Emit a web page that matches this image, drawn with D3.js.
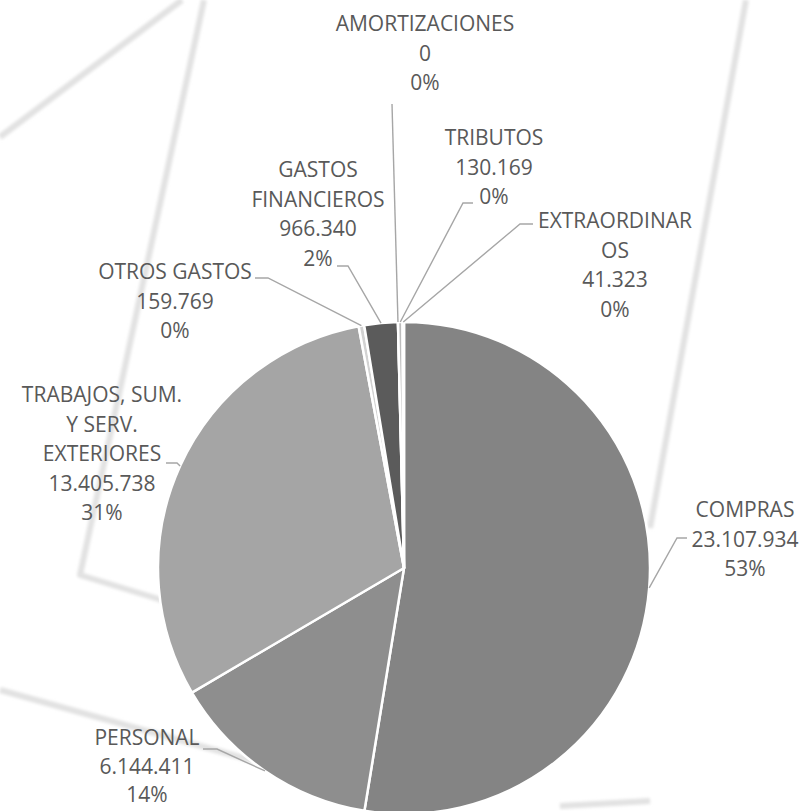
<!DOCTYPE html>
<html>
<head>
<meta charset="utf-8">
<script src="https://cdn.jsdelivr.net/npm/d3@7"></script>
<style>
  body { margin: 0; background: #fff; }
  svg { display: block; }
  text { font-family: "Open Sans", sans-serif; font-size: 21px; fill: #595959; }
</style>
</head>
<body>
<svg class="displayContext" width="805" height="811"></svg>
<script>

// data (clockwise from 12 o'clock)
var categories = ["COMPRAS", "PERSONAL", "TRABAJOS, SUM. Y SERV. EXTERIORES", "OTROS GASTOS",
                  "GASTOS FINANCIEROS", "AMORTIZACIONES", "TRIBUTOS", "EXTRAORDINARIOS"];
var values     = [23107934, 6144411, 13405738, 159769, 966340, 0, 130169, 41323];
var percents   = ["53%", "14%", "31%", "0%", "2%", "0%", "0%", "0%"];
var nameLines  = [["COMPRAS"], ["PERSONAL"], ["TRABAJOS, SUM.", "Y SERV.", "EXTERIORES"], ["OTROS GASTOS"],
                  ["GASTOS", "FINANCIEROS"], ["AMORTIZACIONES"], ["TRIBUTOS"], ["EXTRAORDINAR", "OS"]];

var colours = ["#848484", "#8e8e8e", "#a5a5a5", "#d2d2d2", "#5b5b5b", "#777777", "#bdbdbd", "#9a9a9a"];

// label placement (centre x, first baseline) and leader elbow (x0 -> x1 at y)
var labelPos = [
  { x: 745, y: 517, hx0: 687, hx1: 677, hy: 538 },
  { x: 147, y: 745, hx0: 203, hx1: 217, hy: 749 },
  { x: 102, y: 402, hx0: 166, hx1: 177, hy: 463 },
  { x: 175, y: 279, hx0: 255, hx1: 268, hy: 278 },
  { x: 318, y: 177, hx0: 337, hx1: 348, hy: 266 },
  { x: 425, y: 31,  hx0: 392, hx1: 392, hy: 104 },
  { x: 494, y: 145, hx0: 473, hx1: 463, hy: 203 },
  { x: 615, y: 228, hx0: 533, hx1: 520, hy: 224 }
];

var width = 805, height = 811;
var cx = 404, cy = 568, radius = 246;
var lineStep = 29.5;

var svg = d3.select(".displayContext");

// faint background strokes behind the chart
var blur = svg.append("defs").append("filter").attr("id", "soft")
  .attr("x", "-20%").attr("y", "-20%").attr("width", "140%").attr("height", "140%");
blur.append("feGaussianBlur").attr("stdDeviation", 1.8);

var washLines = [
  [[0, 137], [182, 0]],
  [[204, 0], [80, 575], [165, 601]],
  [[0, 690], [272, 766]],
  [[746, 0], [650, 528]],
  [[560, 806], [650, 801]]
];
svg.append("g").attr("filter", "url(#soft)")
  .selectAll("path").data(washLines).join("path")
  .attr("d", d3.line())
  .attr("fill", "none")
  .attr("stroke", "#e2e2e2")
  .attr("stroke-width", 6)
  .attr("stroke-linejoin", "round");

var total = d3.sum(values);
var fmt = d3.formatLocale({ decimal: ",", thousands: ".", grouping: [3], currency: ["", ""] }).format(",d");

var pie = d3.pie().sort(null).value(function(d) { return d; });
var arcs = pie(values);

var arc = d3.arc().innerRadius(0).outerRadius(radius);
var edge = d3.arc().innerRadius(radius).outerRadius(radius);

var chart = svg.append("g").attr("transform", "translate(" + cx + "," + cy + ")");

chart.selectAll("path.slice").data(arcs).join("path")
  .attr("class", "slice")
  .attr("d", arc)
  .attr("fill", function(d, i) { return colours[i]; })
  .attr("stroke", "#fff")
  .attr("stroke-width", 2.5)
  .attr("stroke-linejoin", "round");

// leader lines
svg.append("g").selectAll("path").data(arcs).join("path")
  .attr("d", function(d, i) {
    var p = labelPos[i];
    var c = edge.centroid(d);
    return d3.line()([[p.hx0, p.hy], [p.hx1, p.hy], [cx + c[0], cy + c[1]]]);
  })
  .attr("fill", "none")
  .attr("stroke", "#a6a6a6")
  .attr("stroke-width", 1.4);

// labels
var labels = svg.append("g").selectAll("text").data(arcs).join("text")
  .attr("text-anchor", "middle")
  .attr("x", function(d, i) { return labelPos[i].x; })
  .attr("y", function(d, i) { return labelPos[i].y; });

labels.each(function(d, i) {
  var lines = nameLines[i].concat([fmt(values[i]), percents[i]]);
  d3.select(this).selectAll("tspan").data(lines).join("tspan")
    .attr("x", labelPos[i].x)
    .attr("dy", function(t, j) { return j === 0 ? 0 : (i === 1 ? 28.5 : lineStep); })
    .text(function(t) { return t; });
});

</script>
</body>
</html>
